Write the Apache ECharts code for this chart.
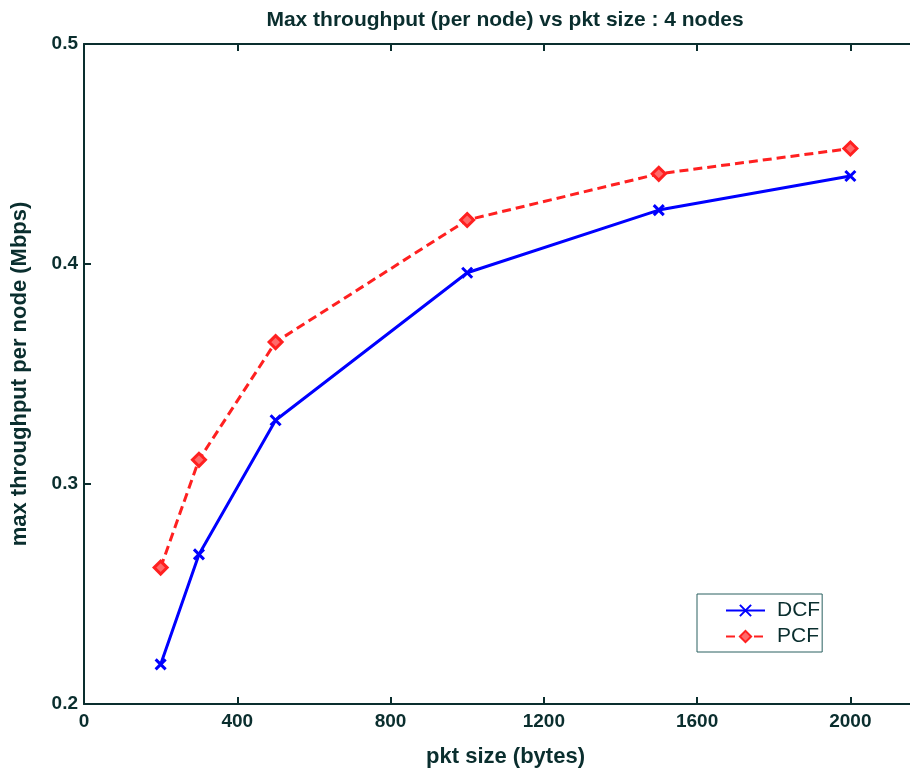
<!DOCTYPE html>
<html>
<head>
<meta charset="utf-8">
<script src="https://cdn.jsdelivr.net/npm/echarts@6/dist/echarts.min.js"></script>
<style>
html,body{margin:0;padding:0;background:#fff;}
#chart{width:910px;height:772px;}
</style>
</head>
<body>
<div id="chart"></div>
<script>
var pktSizes = [200, 300, 500, 1000, 1500, 2000];
var dcfValues = [0.218, 0.268, 0.329, 0.396, 0.4245, 0.440];
var pcfValues = [0.262, 0.311, 0.3645, 0.420, 0.441, 0.4525];
var xTicks = [0, 400, 800, 1200, 1600, 2000];
var yTicks = [0.2, 0.3, 0.4, 0.5];

var textColor = '#0a2e2e';
var font = 'Liberation Sans';
var xPath = 'path://M0,0L10,10M10,0L0,10';

function pairs(xs, ys){ return xs.map(function(x,i){ return [x, ys[i]]; }); }

var chart = echarts.init(document.getElementById('chart'), null, {renderer:'canvas'});
chart.setOption({
  animation: false,
  backgroundColor: '#fff',
  title: {
    text: 'Max throughput (per node) vs pkt size : 4 nodes',
    left: 500, top: 5, textAlign: 'center',
    textStyle: {fontFamily: font, fontSize: 21, fontWeight: 'bold', color: textColor}
  },
  grid: {left: 84, top: 44, width: 843, height: 660, containLabel: false, outerBoundsMode: 'none'},
  xAxis: [{
    type: 'value', min: 0, max: 2200, interval: 400,
    name: 'pkt size (bytes)', nameLocation: 'middle', nameGap: 42,
    nameTextStyle: {fontFamily: font, fontSize: 22, fontWeight: 'bold', color: textColor},
    axisLine: {show: true, onZero: false, lineStyle: {color: textColor, width: 2}},
    axisTick: {show: true, inside: true, length: 7, lineStyle: {color: textColor, width: 2}},
    axisLabel: {color: textColor, fontFamily: font, fontSize: 19, fontWeight: 'bold', margin: 8,
      formatter: function(v){ return xTicks.indexOf(v) >= 0 ? String(v) : ''; }},
    splitLine: {show: false}
  }, {
    type: 'value', min: 0, max: 2200, interval: 400, position: 'top',
    axisLine: {show: true, onZero: false, lineStyle: {color: textColor, width: 2}},
    axisTick: {show: true, inside: true, length: 7, lineStyle: {color: textColor, width: 2}},
    axisLabel: {show: false},
    splitLine: {show: false}
  }],
  yAxis: {
    type: 'value', min: 0.2, max: 0.5, interval: 0.1,
    name: 'max throughput per node (Mbps)', nameLocation: 'middle', nameGap: 53,
    nameTextStyle: {fontFamily: font, fontSize: 22, fontWeight: 'bold', color: textColor},
    axisLine: {show: true, onZero: false, lineStyle: {color: textColor, width: 2}},
    axisTick: {show: true, inside: true, length: 7, lineStyle: {color: textColor, width: 2}},
    axisLabel: {color: textColor, fontFamily: font, fontSize: 19, fontWeight: 'bold', margin: 6,
      formatter: function(v){ var r = Math.round(v*10)/10; return yTicks.indexOf(r) >= 0 ? r.toFixed(1) : ''; }},
    splitLine: {show: false}
  },
  legend: {
    left: 697, top: 594, orient: 'vertical', itemWidth: 39, itemHeight: 14, itemGap: 5,
    backgroundColor: '#fff', borderColor: '#2a6060', borderWidth: 1, padding: [6, 2, 5, 28],
    textStyle: {fontFamily: font, fontSize: 21, lineHeight: 21, color: textColor, padding: [0, 0, 0, 7]},
    data: ['DCF', 'PCF']
  },
  series: [{
    name: 'DCF', type: 'line', data: pairs(pktSizes, dcfValues),
    symbol: xPath, symbolSize: 10,
    lineStyle: {color: '#0000ff', width: 3},
    itemStyle: {color: '#0000ff', borderColor: '#0000ff', borderWidth: 3}
  }, {
    name: 'PCF', type: 'line', data: pairs(pktSizes, pcfValues),
    symbol: 'diamond', symbolSize: 13,
    lineStyle: {color: '#ff2020', width: 3, type: [9, 5]},
    itemStyle: {color: '#ff6a6a', borderColor: '#ff2020', borderWidth: 3}
  }]
});
</script>
</body>
</html>
